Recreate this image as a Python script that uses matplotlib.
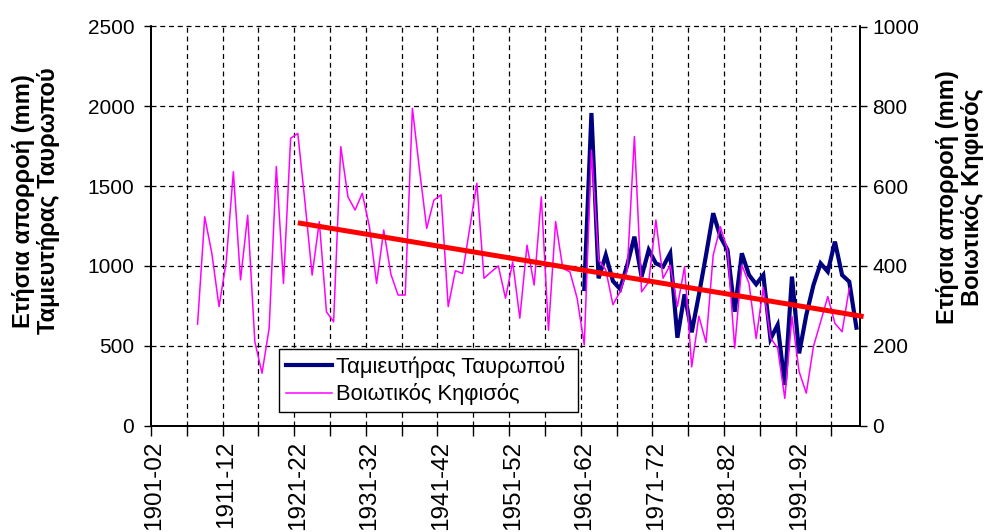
import matplotlib
matplotlib.use("Agg")
import matplotlib.pyplot as plt
from matplotlib.lines import Line2D

plt.rcParams['font.family'] = ['Liberation Sans', 'DejaVu Sans']

# ---- data ----
hydro_years = [f"{y}-{(y + 1) % 100:02d}" for y in range(1901, 2001)]  # 1901-02 ... 2000-01
n_shown = 99  # 1901-02 ... 1999-00 on the axis

tavropos_name = "Ταμιευτήρας Ταυρωπού"
tavropos_start = "1961-62"
tavropos_mm = [855, 1958, 922, 1068, 905, 855, 1006, 1183, 933, 1100,
               1016, 995, 1079, 550, 822, 584, 818, 1068, 1330, 1183,
               1100, 713, 1079, 943, 885, 943, 542, 630, 254, 933,
               452, 692, 880, 1016, 964, 1152, 943, 901, 613]

kifisos_name = "Βοιωτικός Κηφισός"
kifisos_start = "1907-08"
kifisos_mm = [254, 523, 431, 298, 410, 636, 365, 527, 210, 131,
              244, 649, 356, 720, 732, 560, 377, 511, 285, 260,
              699, 573, 540, 582, 498, 356, 490, 379, 327, 327,
              795, 640, 494, 565, 578, 298, 388, 381, 494, 607,
              369, 385, 400, 319, 410, 269, 452, 352, 573, 239,
              511, 394, 385, 319, 202, 690, 415, 390, 303, 335,
              390, 724, 335, 360, 515, 369, 402, 298, 398, 147,
              274, 208, 427, 498, 440, 194, 402, 356, 218, 346,
              220, 194, 68, 273, 135, 81, 198, 260, 323, 256,
              235, 344]

trend_period = ["1921-22", "2000-01"]
trend_mm_right = [508, 273]

left_ticks = [0, 500, 1000, 1500, 2000, 2500]
right_ticks = [0, 200, 400, 600, 800, 1000]
xlabel_years = hydro_years[0:91:10]

# ---- figure ----
fig = plt.figure(figsize=(9.89, 5.32), dpi=100)
ax = fig.add_axes([151 / 989, 1 - 425.5 / 532, 709 / 989, 399 / 532])
ax2 = ax.twinx()

t0 = hydro_years.index(tavropos_start)
k0 = hydro_years.index(kifisos_start)
x_tav = list(range(t0, t0 + len(tavropos_mm)))
x_kif = list(range(k0, k0 + len(kifisos_mm)))
x_trend = [hydro_years.index(p) for p in trend_period]

ax.plot(x_tav, tavropos_mm, color='#000080', lw=3.0, solid_joinstyle='miter', zorder=3)
ax2.plot(x_kif, kifisos_mm, color='#FF00FF', lw=1.1, zorder=3)
ax2.plot(x_trend, trend_mm_right, color='#FF0000', lw=3.6, zorder=4,
         solid_capstyle='butt', clip_on=False)

ax.set_xlim(-0.5, n_shown - 0.5)
ax.set_ylim(0, 2500)
ax2.set_ylim(0, 1000)

# x ticks: marks every 5 categories at boundaries, labels every 10 at centres
bounds = [b - 0.5 for b in range(0, n_shown, 5)]
ax.set_xticks(bounds)
ax.set_xticklabels([])
ax.set_xticks([hydro_years.index(l) for l in xlabel_years], minor=True)
ax.set_xticklabels(xlabel_years, minor=True, rotation=90, fontsize=17.5)
ax.tick_params(axis='x', which='major', direction='out', length=7, width=1)
ax.tick_params(axis='x', which='minor', length=0, pad=11)

ax.set_yticks(left_ticks)
ax.set_yticklabels([str(v) for v in left_ticks], fontsize=15)
ax2.set_yticks(right_ticks)
ax2.set_yticklabels([str(v) for v in right_ticks], fontsize=15)
ax.tick_params(axis='y', direction='out', length=5, width=1, pad=7)
ax2.tick_params(axis='y', direction='out', length=5, width=1, pad=4)

dash = (0, (4, 3))
for b in bounds[1:]:
    ax.axvline(b, color='black', lw=0.9, ls=dash, zorder=1)
for v in left_ticks[1:]:
    ax.axhline(v, color='black', lw=0.9, ls=dash, zorder=1, clip_on=False)

for a in (ax, ax2):
    a.spines['top'].set_visible(False)
    for s in ('left', 'right', 'bottom'):
        a.spines[s].set_linewidth(1.3)
        a.spines[s].set_color('black')

fig.text(36 / 989, 1 - 201 / 532, "Ετήσια απορροή (mm)\n" + tavropos_name,
         rotation=90, ha='center', va='center', fontsize=17, fontweight='bold',
         linespacing=1.15, multialignment='center')
fig.text(960 / 989, 1 - 197 / 532, "Ετήσια απορροή (mm)\n" + kifisos_name,
         rotation=90, ha='center', va='center', fontsize=17, fontweight='bold',
         linespacing=1.15, multialignment='center')

handles = [Line2D([], [], color='#000080', lw=3.0),
           Line2D([], [], color='#FF00FF', lw=1.1)]
leg = ax2.legend(handles, [tavropos_name, kifisos_name], loc='lower left',
                 bbox_to_anchor=(0.1805, 0.034, 0.4215, 0.163), mode='expand',
                 fontsize=15.8, frameon=True, fancybox=False, framealpha=1,
                 edgecolor='black', handlelength=2.1, handletextpad=0.2,
                 borderpad=0.3, labelspacing=0.25, borderaxespad=0)
leg.get_frame().set_linewidth(1.0)
leg.set_zorder(10)

fig.savefig("out.png", dpi=100)
